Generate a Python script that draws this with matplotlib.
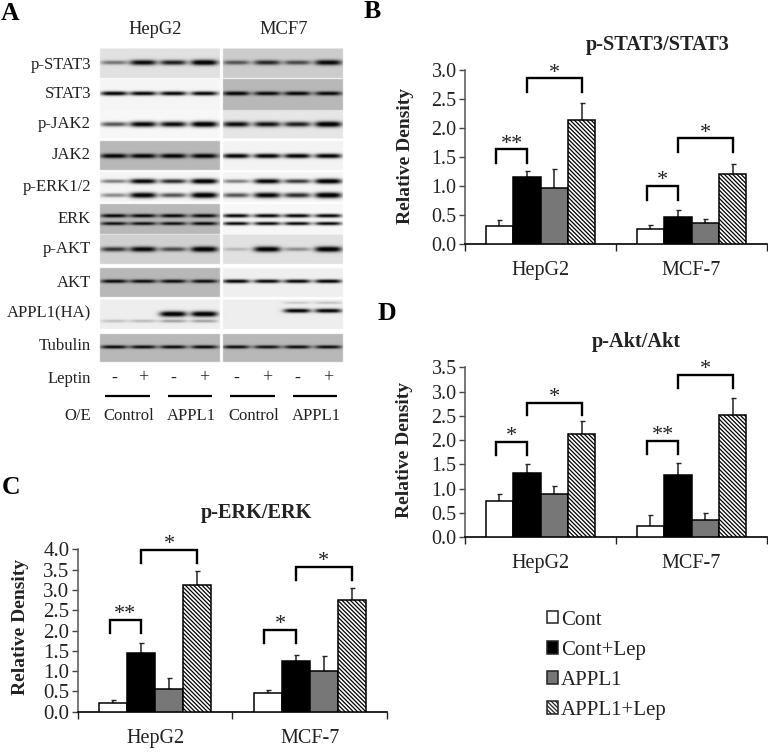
import numpy as np
import matplotlib
matplotlib.use("Agg")
import matplotlib.pyplot as plt
from matplotlib.patches import Patch

plt.rcParams['font.family'] = ['Liberation Serif', 'DejaVu Serif']
plt.rcParams['hatch.linewidth'] = 0.9

W, H = 768, 752

# === Densitometry values ===
cells = ["HepG2", "MCF-7"]
series = ["Cont", "Cont+Lep", "APPL1", "APPL1+Lep"]

stat3_vals = [[0.32, 1.15, 0.97, 2.13], [0.27, 0.47, 0.36, 1.20]]
stat3_tops = [[0.41, 1.26, 1.29, 2.43], [0.34, 0.59, 0.43, 1.38]]
erk_vals = [[0.22, 1.45, 0.57, 3.12], [0.46, 1.26, 1.00, 2.76]]
erk_tops = [[0.28, 1.70, 0.83, 3.47], [0.54, 1.39, 1.36, 3.04]]
akt_vals = [[0.75, 1.32, 0.88, 2.13], [0.23, 1.28, 0.35, 2.51]]
akt_tops = [[0.88, 1.50, 1.06, 2.39], [0.45, 1.53, 0.50, 2.87]]

# significance brackets: group, first bar, last bar, top, foot, stars
stat3_sig = [(0, 0, 1, 1.63, 1.39, "**"), (0, 1, 3, 2.85, 2.62, "*"),
             (1, 0, 1, 1.00, 0.76, "*"), (1, 1, 3, 1.82, 1.59, "*")]
erk_sig = [(0, 0, 1, 2.27, 1.95, "**"), (0, 1, 3, 3.99, 3.67, "*"),
           (1, 0, 1, 2.01, 1.68, "*"), (1, 1, 3, 3.57, 3.25, "*")]
akt_sig = [(0, 0, 1, 1.96, 1.69, "*"), (0, 1, 3, 2.77, 2.51, "*"),
           (1, 0, 1, 1.98, 1.71, "**"), (1, 1, 3, 3.34, 3.07, "*")]

# === Western blot: band strength per lane (4 HepG2 + 4 MCF7) ===
blot_labels = ["p-STAT3", "STAT3", "p-JAK2", "JAK2", "p-ERK1/2", "ERK",
               "p-AKT", "AKT", "APPL1(HA)", "Tubulin"]
blot_label_y = [65, 94, 124, 155, 187, 219, 249, 283, 313, 346]

# row top, row bottom, background HepG2, background MCF7
blot_rows = [
    (48.5, 78, 0.88, 0.80),
    (79, 110, 0.96, 0.72),
    (110, 138.5, 0.97, 0.90),
    (141, 170, 0.72, 0.95),
    (172.5, 202, 0.96, 0.96),
    (204, 234, 0.72, 0.97),
    (234.5, 264, 0.82, 0.88),
    (268, 297, 0.72, 0.94),
    (299.5, 329, 0.93, 0.93),
    (334, 362, 0.72, 0.72),
]
# band centre, half thickness, strengths
blot_bands = [
    (62.3, 2.6, [0.45, 0.90, 0.80, 1.00, 0.55, 0.75, 0.60, 0.92]),
    (93.2, 2.0, [0.95, 0.92, 0.92, 0.92, 0.95, 0.90, 0.92, 0.90]),
    (124, 2.7, [0.60, 0.92, 0.88, 1.00, 0.88, 0.85, 0.80, 1.00]),
    (155.7, 2.2, [0.95, 0.95, 0.95, 0.95, 0.95, 0.95, 0.95, 0.95]),
    (181, 2.4, [0.45, 0.92, 0.75, 1.00, 0.45, 0.92, 0.70, 1.00]),
    (195, 2.7, [0.40, 0.95, 0.60, 1.00, 0.60, 0.92, 0.75, 1.00]),
    (215.5, 1.8, [0.90, 0.90, 0.90, 0.90, 0.92, 0.92, 0.92, 0.92]),
    (223.3, 1.7, [0.85, 0.85, 0.85, 0.90, 0.90, 0.90, 0.90, 0.90]),
    (249, 2.6, [0.70, 0.92, 0.60, 1.00, 0.18, 0.98, 0.35, 1.00]),
    (281, 1.8, [0.90, 0.88, 0.88, 0.88, 0.95, 0.92, 0.92, 0.95]),
    (313.8, 2.6, [0.00, 0.00, 1.00, 1.00, 0.00, 0.00, 0.00, 0.00]),
    (310.5, 2.0, [0.00, 0.00, 0.00, 0.00, 0.00, 0.00, 0.95, 0.95]),
    (320.8, 2.2, [0.18, 0.20, 0.30, 0.30, 0.00, 0.00, 0.00, 0.00]),
    (302.5, 1.8, [0.00, 0.00, 0.00, 0.00, 0.00, 0.00, 0.15, 0.18]),
    (346.7, 1.7, [0.90, 0.88, 0.90, 0.90, 0.88, 0.85, 0.88, 0.88]),
]
lane_x = [114, 143, 173, 204, 236, 267, 297, 328]
leptin_marks = ["-", "+", "-", "+", "-", "+", "-", "+"]
oe_labels = ["Control", "APPL1", "Control", "APPL1"]

# === Figure and a pixel-space canvas for the blot ===
fig = plt.figure(figsize=(W / 100, H / 100), dpi=100)
canvas = fig.add_axes([0, 0, 1, 1])
canvas.set_xlim(0, W)
canvas.set_ylim(H, 0)
canvas.axis('off')

# build the blot as an image
yy, xx = np.mgrid[0:H * 2, 0:W * 2] / 2.0
img = np.ones((H * 2, W * 2))
for top, bottom, bg_h, bg_m in blot_rows:
    in_row = (yy >= top) & (yy < bottom)
    img[in_row & (xx >= 100) & (xx < 220)] = bg_h
    img[in_row & (xx >= 223) & (xx < 343)] = bg_m
for yc, thick, strengths in blot_bands:
    for xc, s in zip(lane_x, strengths):
        if s == 0:
            continue
        d = s * np.exp(-((yy - yc) / (thick * (0.55 + 0.5 * s))) ** 2)
        d = d * np.exp(-((xx - xc) / 13.5) ** 4)
        d = np.clip(d * 1.15, 0, 1)
        d[(xx < 100) | (xx >= 343) | ((xx >= 220) & (xx < 223))] = 0
        img = img * (1 - d) + 0.02 * d
canvas.imshow(img, cmap='gray', vmin=0, vmax=1, extent=(0, W, H, 0),
              aspect='auto', interpolation='bilinear')
canvas.set_xlim(0, W)
canvas.set_ylim(H, 0)

# === Blot labels ===
for name, y in zip(blot_labels, blot_label_y):
    canvas.text(91, y, name, ha='right', va='center', fontsize=12, color='#222222')
canvas.text(155, 30, "HepG2", ha='center', va='center', fontsize=13.3, color='#222222')
canvas.text(284, 30, "MCF7", ha='center', va='center', fontsize=13.3, color='#222222')
canvas.text(91, 379, "Leptin", ha='right', va='center', fontsize=12, color='#222222')
for x, mark in zip(lane_x, leptin_marks):
    canvas.text(x, 378, mark, ha='center', va='center', fontsize=13, color='#222222')
canvas.text(91, 416, "O/E", ha='right', va='center', fontsize=12, color='#222222')
for x0, x1, name in zip([105, 168, 230, 293], [150, 212, 275, 337], oe_labels):
    canvas.plot([x0, x1], [396, 396], color='black', lw=1.6, solid_capstyle='butt')
    canvas.text((x0 + x1) / 2 + 1, 416, name, ha='center', va='center',
                fontsize=12, color='#222222')

# === Panel letters ===
for letter, x, y in [("A", 10, 14), ("B", 372, 12), ("C", 11, 488), ("D", 387, 314)]:
    canvas.text(x, y, letter, ha='center', va='center', fontsize=18.5,
                fontweight='bold', color='black')

bar_fill = ['white', 'black', '#777777', 'white']
bar_hatch = [None, None, None, '\\\\\\\\\\\\\\\\']


def bar_panel(x0, x1, y_low, y_high, ymax, vals, tops, sig, title, title_xy,
              ylabel_xy, cat_y, step=0.5, tick_size=14.4):
    ax = fig.add_axes([x0 / W, 1 - y_low / H, (x1 - x0) / W, (y_low - y_high) / H])
    ax.patch.set_alpha(0)
    width = 0.1815
    for g in range(2):
        for b in range(4):
            xpos = g + 0.5 + (b - 1.5) * width
            ax.bar(xpos, vals[g][b], width=width, facecolor=bar_fill[b],
                   hatch=bar_hatch[b], edgecolor='black', linewidth=1.1, zorder=3)
            # upper error bar only
            ax.errorbar(xpos, vals[g][b], yerr=[[0], [tops[g][b] - vals[g][b]]],
                        color='#222222', elinewidth=1.1, capsize=1.8, capthick=1.0,
                        zorder=2)
    for g, i, j, top, foot, stars in sig:
        xa = g + 0.5 + (i - 1.5) * width
        xb = g + 0.5 + (j - 1.5) * width
        if j - i == 1:
            xa -= 0.02
        ax.plot([xa, xa, xb, xb], [foot, top, top, foot], color='black', lw=1.7,
                clip_on=False, solid_joinstyle='miter', zorder=4)
        ax.annotate(stars, ((xa + xb) / 2, top), xytext=(0, -3), textcoords='offset points',
                    ha='center', va='bottom', fontsize=16, color='#222222',
                    annotation_clip=False)

    ax.set_xlim(0, 2)
    ax.set_ylim(0, ymax)
    ax.set_yticks(np.arange(0, ymax + 0.01, step))
    ax.set_yticklabels([f"{v:.1f}" for v in np.arange(0, ymax + 0.01, step)])
    ax.set_xticks([0, 1, 2])
    ax.set_xticklabels([])
    ax.set_xticks([0.5, 1.5], minor=True)
    ax.set_xticklabels(cells, minor=True)
    ax.tick_params(axis='x', which='major', length=5, width=1.0, color='#222222')
    ax.tick_params(axis='x', which='minor', length=0, labelsize=14.5, labelcolor='#222222')
    ax.tick_params(axis='y', length=4, width=1.0, labelsize=tick_size, pad=2,
                   color='#444444', labelcolor='#222222')
    for label in ax.get_xticklabels(minor=True):
        label.set_y((y_low - cat_y) / (y_low - y_high) + 0.0)
        label.set_verticalalignment('center')
    ax.spines['top'].set_visible(False)
    ax.spines['right'].set_visible(False)
    ax.spines['left'].set_color('#555555')
    ax.spines['left'].set_linewidth(1.1)
    ax.spines['bottom'].set_linewidth(1.2)
    ax.set_ylabel("Relative Density", fontsize=14, fontweight='bold', color='#222222')
    ax.yaxis.set_label_coords(ylabel_xy[0], ylabel_xy[1], transform=canvas.transData)
    canvas.text(title_xy[0], title_xy[1], title, ha='center', va='center',
                fontsize=14.6, fontweight='bold', color='#222222')
    return ax


bar_panel(465, 767, 244.3, 69.7, 3.0, stat3_vals, stat3_tops, stat3_sig,
          "p-STAT3/STAT3", (658, 45), (414, 156), 266)
bar_panel(77.7, 387, 711.7, 549.3, 4.0, erk_vals, erk_tops, erk_sig,
          "p-ERK/ERK", (256, 513), (29, 627), 734, tick_size=15)
bar_panel(465, 767, 537, 367.3, 3.5, akt_vals, akt_tops, akt_sig,
          "p-Akt/Akt", (636, 342), (413, 450), 559)

# === Legend ===
handles = [Patch(facecolor=bar_fill[b], hatch=bar_hatch[b], edgecolor='#222222',
                 linewidth=1.1, label=series[b]) for b in range(4)]
leg = fig.legend(handles=handles, loc='upper left', bbox_to_anchor=(532 / W, 1 - 596 / H),
                 frameon=False, fontsize=15, handlelength=0.55, handleheight=0.55,
                 handletextpad=0.15, labelspacing=0.53, borderpad=0.2)
for txt in leg.get_texts():
    txt.set_color('#222222')

fig.savefig("out.png", dpi=100)
